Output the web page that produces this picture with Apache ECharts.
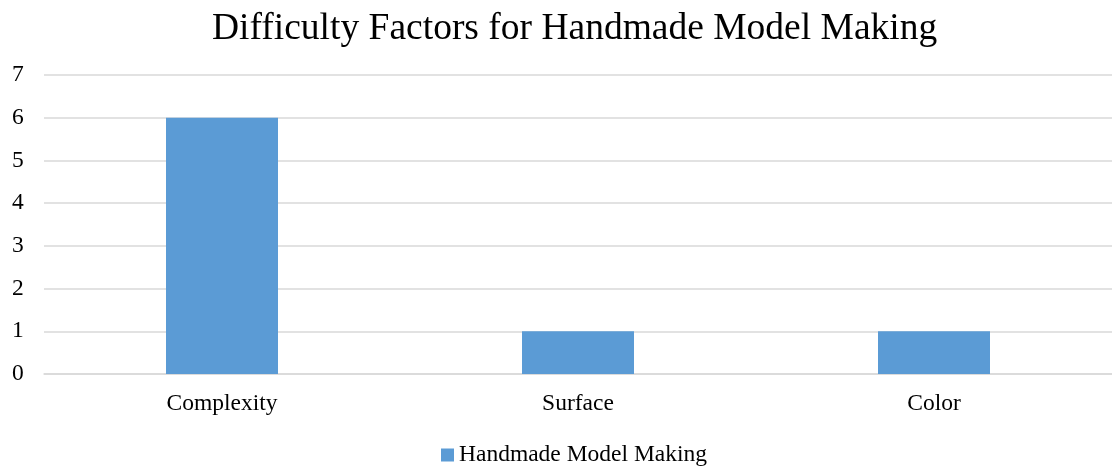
<!DOCTYPE html>
<html>
<head>
<meta charset="utf-8">
<script src="https://cdn.jsdelivr.net/npm/echarts@6/dist/echarts.min.js"></script>
<style>
  html, body { margin: 0; padding: 0; background: #fff; }
  #chart { width: 1112px; height: 467px; }
</style>
</head>
<body>
<div id="chart"></div>
<script>
const chartTitle = 'Difficulty Factors for Handmade Model Making';
const seriesName = 'Handmade Model Making';
const categories = ['Complexity', 'Surface', 'Color'];
const values = [6, 1, 1];
const yTicks = [0, 1, 2, 3, 4, 5, 6, 7];

const serif = '"Liberation Serif", "Times New Roman", serif';
const chart = echarts.init(document.getElementById('chart'));

chart.setOption({
  animation: false,
  backgroundColor: '#ffffff',
  title: {
    text: chartTitle,
    left: 207,
    top: 5,
    textStyle: { fontFamily: serif, fontSize: 37.5, fontWeight: 'normal', color: '#000' }
  },
  legend: {
    data: [seriesName],
    top: 438,
    left: 436,
    icon: 'rect',
    itemWidth: 13,
    itemHeight: 13,
    itemGap: 6,
    textStyle: { fontFamily: serif, fontSize: 23.5, color: '#000' }
  },
  grid: { left: 44, top: 75, width: 1074, height: 299, containLabel: false },
  xAxis: {
    type: 'category',
    data: categories,
    axisLine: { show: true, lineStyle: { color: '#d9d9d9', width: 1.5 } },
    axisTick: { show: false },
    axisLabel: { fontFamily: serif, fontSize: 23.5, color: '#000', margin: 18 }
  },
  yAxis: {
    type: 'value',
    min: yTicks[0],
    max: yTicks[yTicks.length - 1],
    interval: 1,
    axisLine: { show: false },
    axisTick: { show: false },
    axisLabel: { fontFamily: serif, fontSize: 23.5, color: '#000', margin: 32, align: 'left' },
    splitLine: { lineStyle: { color: '#d9d9d9', width: 1.5 } }
  },
  series: [{
    name: seriesName,
    type: 'bar',
    data: values,
    barWidth: 112,
    itemStyle: { color: '#5b9bd5' }
  }]
});
</script>
</body>
</html>
